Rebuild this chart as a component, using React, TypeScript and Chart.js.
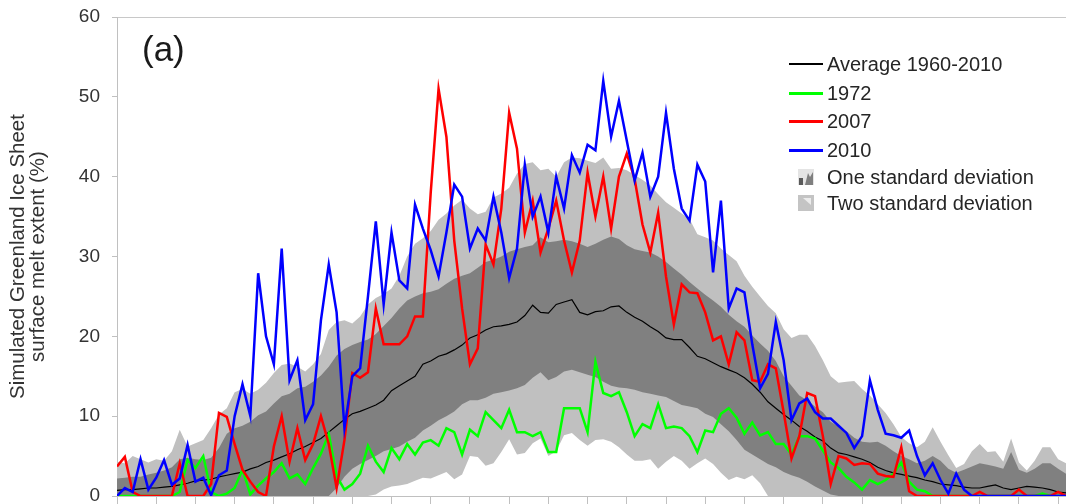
import React, { useEffect, useRef } from 'react';
import { Chart, registerables } from 'chart.js';

Chart.register(...registerables);

// Daily melt extent sampled every other day from the start of the season.
const STEP_DAYS = 2;

const avgMelt = [
  0.7, 0.8, 0.8, 0.9, 1.0, 1.0, 1.1, 1.2, 1.4, 1.6,
  1.9, 2.0, 2.1, 2.4, 2.6, 2.8, 3.0, 3.4, 3.7, 4.2,
  4.5, 4.9, 5.3, 5.8, 6.2, 6.7, 7.2, 8.0, 8.8, 9.6,
  10.3, 10.6, 11.0, 11.4, 12.0, 13.2, 13.8, 14.4, 15.0, 16.5,
  16.9, 17.5, 17.8, 18.3, 18.9, 19.8, 20.2, 20.8, 21.2, 21.3,
  21.5, 21.8, 22.6, 23.9, 23.0, 22.9, 24.0, 24.3, 24.6, 23.0,
  22.7, 23.1, 23.2, 23.7, 23.8, 23.0, 22.4, 21.9, 21.2, 20.6,
  19.8, 19.6, 19.6, 18.6, 17.5, 17.2, 16.7, 16.2, 15.8, 15.4,
  14.8, 14.0, 13.0, 11.8, 11.0, 10.2, 9.5, 8.7, 8.1, 7.4,
  6.9, 6.0, 5.4, 5.2, 4.9, 4.6, 4.2, 3.6, 3.2, 2.9,
  2.7, 2.5, 2.3, 2.0, 1.8, 1.5, 1.4, 1.3, 1.1, 1.0,
  1.0, 1.2, 1.4, 1.0, 0.8, 1.0, 1.2, 1.1, 1.0, 0.8,
  0.5, 0.4,
];

const melt1972 = [
  0, 0, 0, 0, 0, 0, 0, 0, 0.5, 4.5,
  3.5, 5.0, 0.5, 0, 0.3, 1.0, 3.3, 0.2, 1.3, 2.2,
  3.0, 4.1, 2.2, 2.7, 1.5, 3.5, 5.3, 7.8, 2.5, 0.8,
  1.5, 2.8, 6.3, 4.3, 3.0, 6.0, 4.6, 6.5, 5.2, 6.7,
  7.0, 6.3, 8.5, 8.0, 5.2, 8.3, 7.5, 10.5, 9.5, 8.5,
  10.8, 8.0, 8.0, 7.5, 8.0, 5.5, 5.5, 11.0, 11.0, 11.0,
  8.0, 16.8, 12.9, 12.5, 13.0, 10.5, 7.5, 9.0, 8.5, 11.5,
  8.5, 8.7, 8.5, 7.5, 5.5, 8.2, 8.0, 10.3, 11.0, 9.8,
  7.8, 9.2, 7.6, 8.0, 6.5, 6.5, 5.2, 7.5, 7.5, 7.2,
  5.7, 4.2, 3.5, 2.4, 1.7, 0.8, 2.0, 1.5, 2.0, 2.8,
  4.2, 1.8, 0.8, 0.6, 0, 0, 0, 0, 0, 0,
  0, 0, 0, 0, 0, 0, 0, 0, 0.3, 0,
  0, 0,
];

const melt2007 = [
  3.7, 4.9, 0.5, 0, 0, 0, 0, 0, 4.1, 0,
  0, 0, 1.5, 10.4, 9.9, 6.5, 3.3, 1.8, 0.5, 0,
  6.2, 10.0, 4.3, 8.5, 4.5, 6.5, 10.0, 6.5, 1.0, 7.0,
  15.4, 14.8, 15.5, 23.5, 19.0, 19.0, 19.0, 20.0, 22.5, 22.5,
  38.0, 51.0, 45.0, 32.0, 23.5, 16.5, 18.5, 31.5, 29.0, 36.0,
  48.0, 43.5, 33.0, 37.0, 30.5, 33.5, 37.0, 32.0, 28.0, 32.0,
  40.5, 35.0, 40.0, 33.5, 40.0, 42.9, 39.7, 34.0, 30.5, 35.5,
  27.5, 21.5, 26.5, 25.5, 25.4, 23.0, 19.5, 20.0, 16.5, 20.5,
  19.5, 14.5, 14.3, 16.5, 16.0, 10.5, 4.7, 7.5, 12.9, 12.5,
  7.5, 1.5, 5.0, 4.7, 3.9, 4.1, 4.0, 2.8, 2.5, 2.4,
  6.1, 0.6, 0, 0, 0, 0, 0, 0, 0, 0,
  0.5, 0, 0, 0, 0, 0.8, 0, 0, 0, 0,
  0.5, 0,
];

const melt2010 = [
  0, 1.0, 0.5, 4.6, 0.8, 2.3, 4.5, 1.4, 2.2, 6.4,
  1.8, 2.3, 0.1, 2.6, 3.2, 10.0, 14.0, 10.0, 27.9, 20.0,
  16.5, 31.0, 14.5, 17.0, 9.5, 11.5, 22.0, 29.0, 23.0, 8.5,
  15.0, 16.0, 25.0, 34.4, 24.0, 33.0, 27.0, 26.0, 36.5, 33.5,
  30.8, 27.5, 33.0, 39.0, 37.5, 31.0, 33.5, 32.0, 37.5, 33.0,
  27.3, 31.0, 41.5, 35.0, 37.5, 33.0, 40.0, 36.0, 42.7, 40.5,
  44.0, 43.3, 52.0, 45.0, 49.5, 44.5, 39.5, 43.0, 37.5, 40.0,
  48.0, 41.0, 36.0, 34.5, 41.5, 39.4, 28.0, 37.0, 23.5, 26.0,
  25.5, 19.0, 13.5, 15.3, 21.8, 17.0, 9.5, 11.6, 12.2, 10.5,
  9.7, 9.7, 8.8, 7.9, 6.0, 7.5, 14.5, 10.8, 7.8, 7.6,
  7.3, 8.2, 5.0, 2.6, 4.1, 2.0, 0.3, 2.8, 0.8, 0,
  0, 0, 0, 0, 0, 0, 0, 0, 0, 0,
  0, 0,
];

// Spread of the 1960-2010 simulations: average +/- one and two standard deviations.
const oneSdUpper = [
  2.2, 2.3, 2.4, 2.4, 2.7, 2.9, 3.2, 3.6, 4.6, 4.8,
  4.6, 4.5, 4.8, 6.0, 7.8, 8.5, 8.8, 9.3, 10.1, 10.6,
  11.6, 12.5, 12.8, 13.5, 13.7, 14.3, 15.1, 16.2, 17.6, 18.4,
  18.9, 19.3, 19.6, 20.3, 21.3, 22.3, 23.5, 24.5, 25.0, 25.4,
  25.6, 25.9, 26.6, 27.2, 27.6, 27.9, 28.6, 29.3, 29.6, 30.0,
  30.6, 30.9, 31.2, 31.4, 32.4, 31.8, 31.9, 32.1, 31.9, 31.6,
  31.2, 31.6, 32.1, 32.5, 32.2, 31.4, 30.9, 30.7, 30.5, 30.0,
  29.3, 28.5, 27.7, 26.8, 26.0, 25.2, 24.5, 23.7, 22.7, 21.9,
  21.2, 20.1, 19.1, 18.2, 16.9, 15.0, 13.8, 12.6, 12.0, 11.2,
  10.5, 9.3, 8.7, 8.1, 7.3, 6.8, 6.7, 6.8, 6.3, 5.6,
  5.0, 4.6, 4.1, 4.4, 5.0, 4.4, 3.4, 2.9, 3.3, 3.7,
  4.1, 3.9, 3.7, 3.4, 5.5, 3.3, 2.9, 3.4, 4.1, 4.1,
  3.4, 2.8,
];

const oneSdLower = [
  0, 0, 0, 0, 0, 0, 0, 0, 0, 0,
  0, 0, 0, 0, 0, 0, 0, 0, 0, 0,
  0, 0, 0, 0, 0, 0, 0, 0, 1.0, 2.4,
  3.4, 4.0, 4.5, 5.0, 5.6, 5.9, 6.2, 6.8, 7.3, 8.2,
  8.8, 9.5, 10.0, 10.6, 11.5, 12.0, 12.0, 12.3, 12.8, 13.0,
  13.2, 13.5, 13.9, 14.8, 15.5, 14.5, 14.9, 15.6, 15.8, 15.5,
  15.2, 14.9, 14.3, 13.8, 13.6, 13.5, 13.3, 13.0, 12.8, 12.6,
  12.4, 11.9, 11.4, 11.2, 11.0, 10.3, 9.9, 9.0, 8.1, 7.0,
  5.8, 5.2, 4.6, 4.0, 3.6, 3.0, 2.6, 2.3, 1.8, 1.2,
  0.7, 0.2, 0, 0, 0, 0, 0, 0, 0, 0,
  0, 0, 0, 0, 0, 0, 0, 0, 0, 0,
  0, 0, 0, 0, 0, 0, 0, 0, 0, 0,
  0, 0,
];

const twoSdUpper = [
  4.3, 4.1, 5.0, 4.6, 4.2, 4.6, 4.4, 5.6, 8.3, 6.2,
  6.6, 7.0, 8.5, 10.2, 11.0, 13.0, 13.4, 12.8, 13.3, 14.2,
  15.4, 16.4, 16.6, 16.2, 15.6, 16.5, 17.8, 20.8, 21.8, 22.0,
  21.6, 22.5, 24.0, 24.8, 25.3, 26.0, 27.6, 30.0, 31.6, 32.3,
  33.2, 34.6, 35.4, 36.4, 37.1, 36.0, 35.3, 35.6, 37.4, 37.9,
  38.6, 40.4, 41.6, 41.8, 40.8, 41.0, 40.0, 41.8, 42.4, 42.3,
  42.0, 41.7, 42.4, 41.0, 41.1, 40.8, 40.2, 39.6, 38.9, 37.8,
  36.8, 36.1, 35.4, 34.7, 32.8, 32.4, 32.0, 31.0, 30.2, 29.4,
  27.6, 26.2, 25.0, 23.8, 22.9, 20.9, 19.8, 20.2, 20.2, 18.8,
  17.0, 15.0, 14.2, 14.3, 14.4, 13.4, 12.6, 11.5, 10.4, 9.0,
  7.4, 6.6, 6.1, 6.8, 8.6, 6.8, 5.1, 3.5, 4.0, 5.6,
  6.5, 5.5, 5.6, 4.3, 7.2, 4.2, 3.2, 4.4, 6.1, 6.1,
  4.6, 4.1,
];

const twoSdLower = [
  0, 0, 0, 0, 0, 0, 0, 0, 0, 0,
  0, 0, 0, 0, 0, 0, 0, 0, 0, 0,
  0, 0, 0, 0, 0, 0, 0, 0, 0, 0,
  0, 0, 0, 0.2, 0.8, 1.2, 1.3, 1.5, 1.9, 2.3,
  2.2, 2.6, 3.0, 2.1, 2.7, 5.0, 4.9, 3.8, 4.1, 5.5,
  7.1, 5.2, 5.4, 6.6, 7.2, 5.0, 5.6, 7.6, 7.9, 7.0,
  6.3, 7.0, 7.1, 6.8, 6.1, 5.2, 4.4, 4.4, 4.6, 3.4,
  4.3, 5.0, 4.4, 3.4, 4.1, 4.7, 4.0, 2.9, 2.0, 2.4,
  2.1, 2.6, 1.6, 0, 0, 0, 0, 0, 0, 0,
  0, 0, 0, 0, 0, 0, 0, 0, 0, 0,
  0, 0, 0, 0, 0, 0, 0, 0, 0, 0,
  0, 0, 0, 0, 0, 0, 0, 0, 0, 0,
  0, 0,
];

const yAxisTitle = ['Simulated Greenland Ice Sheet', 'surface melt extent (%)'];
const panelLabel = '(a)';

const legendItems = [
  { label: 'Average 1960-2010', kind: 'line', color: '#000000', width: 1.5 },
  { label: '1972', kind: 'line', color: '#00ff00', width: 3 },
  { label: '2007', kind: 'line', color: '#ff0000', width: 3 },
  { label: '2010', kind: 'line', color: '#0000ff', width: 3 },
  { label: 'One standard deviation', kind: 'sd1' },
  { label: 'Two standard deviation', kind: 'sd2' },
];

const FONT = "'Liberation Sans', Arial, Helvetica, sans-serif";
const AXIS_GREY = '#c0c0c0';
const TEXT_COLOR = '#333333';

const dayOffsets = avgMelt.map((_, i) => i * STEP_DAYS);
const toPoints = (values: number[]) => values.map((y, i) => ({ x: dayOffsets[i], y }));

const lineDataset = (label: string, values: number[], color: string, width: number, order: number) => ({
  label,
  data: toPoints(values),
  borderColor: color,
  borderWidth: width,
  pointRadius: 0,
  pointHoverRadius: 0,
  tension: 0,
  fill: false,
  order,
});

const bandEdge = (label: string, values: number[], order: number, fill: any, color: string) => ({
  label,
  data: toPoints(values),
  borderColor: 'rgba(0,0,0,0)',
  borderWidth: 0,
  backgroundColor: color,
  pointRadius: 0,
  pointHoverRadius: 0,
  tension: 0,
  fill,
  order,
});

const legendRowCenters = [64, 93, 121, 150, 177, 203];

function LegendSwatch({ item }: { item: any }) {
  if (item.kind === 'line') {
    return (
      <div style={{ width: 34, height: 14, display: 'flex', alignItems: 'center' }}>
        <div style={{ width: 34, height: item.width, background: item.color }} />
      </div>
    );
  }
  if (item.kind === 'sd1') {
    return (
      <div style={{ width: 34, height: 16, display: 'flex', justifyContent: 'center' }}>
        <svg width="16" height="16" viewBox="0 0 16 16">
          <rect x="0" y="0" width="16" height="16" fill="#e4e4e4" />
          <polygon points="1,16 1,9 5,9 5,16" fill="#5a5a5a" />
          <polygon points="7,16 10,4 12,8 15,3 15,16" fill="#7f7f7f" />
        </svg>
      </div>
    );
  }
  return (
    <div style={{ width: 34, height: 16, display: 'flex', justifyContent: 'center' }}>
      <svg width="16" height="16" viewBox="0 0 16 16">
        <rect x="0" y="0" width="16" height="16" fill="#c4c4c4" />
        <polygon points="5,3 13,3 13,10" fill="#ececec" />
      </svg>
    </div>
  );
}

export default function App() {
  const canvasRef = useRef<HTMLCanvasElement>(null);

  useEffect(() => {
    const canvas = canvasRef.current;
    if (!canvas) return;

    const chart = new Chart(canvas, {
      type: 'line',
      data: {
        datasets: [
          lineDataset('2010', melt2010, '#0000ff', 2.5, 0),
          lineDataset('2007', melt2007, '#ff0000', 2.5, 1),
          lineDataset('1972', melt1972, '#00ff00', 2.5, 2),
          lineDataset('Average 1960-2010', avgMelt, '#000000', 1.2, 3),
          bandEdge('One standard deviation', oneSdUpper, 4, { target: 5 }, '#808080'),
          bandEdge('One standard deviation (lower)', oneSdLower, 5, false, '#808080'),
          bandEdge('Two standard deviation', twoSdUpper, 6, { target: 7 }, '#c0c0c0'),
          bandEdge('Two standard deviation (lower)', twoSdLower, 7, false, '#c0c0c0'),
        ] as any,
      },
      options: {
        animation: false,
        responsive: false,
        devicePixelRatio: 1,
        events: [],
        layout: { autoPadding: false, padding: { top: 17, right: 0, bottom: 0, left: 0 } },
        plugins: {
          legend: { display: false },
          tooltip: { enabled: false },
        },
        scales: {
          x: {
            type: 'linear',
            min: 0,
            max: 242,
            ticks: { display: false, stepSize: 10, includeBounds: false },
            grid: {
              drawOnChartArea: false,
              drawTicks: true,
              tickLength: 8,
              color: AXIS_GREY,
              tickColor: AXIS_GREY,
            },
            border: { color: AXIS_GREY, width: 1 },
            afterFit: (scale: any) => {
              scale.height = 8;
              scale.paddingLeft = 0;
              scale.paddingRight = 0;
            },
          },
          y: {
            min: 0,
            max: 60,
            ticks: {
              stepSize: 10,
              padding: 12,
              color: TEXT_COLOR,
              font: { family: FONT, size: 19 },
            },
            grid: {
              color: (ctx: any) => (ctx.tick && ctx.tick.value === 60 ? '#c8c8c8' : 'rgba(0,0,0,0)'),
              tickColor: AXIS_GREY,
              tickLength: 5,
              drawTicks: true,
            },
            border: { color: AXIS_GREY, width: 1 },
            title: {
              display: true,
              text: yAxisTitle,
              color: TEXT_COLOR,
              font: { family: FONT, size: 20.5, lineHeight: 1.0 },
              padding: { top: 8, bottom: 0 },
            },
            afterFit: (scale: any) => {
              scale.width = 117;
              scale.paddingTop = 0;
              scale.paddingBottom = 0;
            },
          },
        },
      } as any,
    });

    return () => chart.destroy();
  }, []);

  return (
    <div
      style={{
        position: 'absolute',
        left: 0,
        top: 0,
        width: 1066,
        height: 504,
        overflow: 'hidden',
        background: '#ffffff',
        fontFamily: FONT,
      }}
    >
      <canvas ref={canvasRef} width={1066} height={504} style={{ display: 'block' }} />
      <div
        style={{
          position: 'absolute',
          left: 142,
          top: 31,
          fontSize: 35,
          lineHeight: '35px',
          color: '#1a1a1a',
          whiteSpace: 'nowrap',
        }}
      >
        {panelLabel}
      </div>
      {legendItems.map((item, i) => (
        <div
          key={item.label}
          style={{
            position: 'absolute',
            left: 789,
            top: legendRowCenters[i] - 10,
            height: 20,
            display: 'flex',
            alignItems: 'center',
            whiteSpace: 'nowrap',
          }}
        >
          <LegendSwatch item={item} />
          <span style={{ marginLeft: 4, fontSize: 20, lineHeight: '20px', color: '#262626' }}>
            {item.label}
          </span>
        </div>
      ))}
    </div>
  );
}
